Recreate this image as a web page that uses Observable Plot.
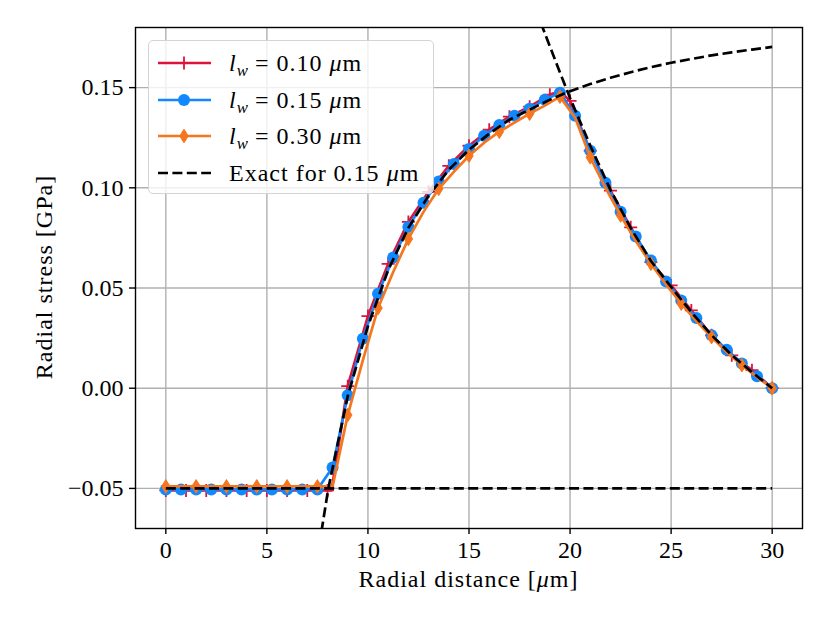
<!DOCTYPE html>
<html>
<head>
<meta charset="utf-8">
<script src="https://cdn.jsdelivr.net/npm/d3@7"></script>
<script src="https://cdn.jsdelivr.net/npm/@observablehq/plot@0.6"></script>
<style>
  body { margin: 0; background: #fff; }
  #wrap { position: relative; width: 830px; height: 623px; font-family: "Liberation Serif", serif; color: #000; }
  #legend { position: absolute; left: 148px; top: 40px; width: 286px; height: 154px; box-sizing: border-box;
            border: 1.3px solid #d4d4d4; border-radius: 5px; background: rgba(255,255,255,0.8); }
  .row { position: absolute; left: 0; height: 30px; width: 280px; }
  .row svg { position: absolute; left: 8px; top: 3px; }
  .row .lab { position: absolute; left: 80px; top: 0; font-size: 24px; line-height: 30px; letter-spacing: 1px; white-space: nowrap; }
  .sub { font-size: 70%; position: relative; top: 0.3em; letter-spacing: 0; }
</style>
</head>
<body>
<div id="wrap"><div id="legend"></div></div>
<script>
// ---------- data ----------
const xTicks = [0, 5, 10, 15, 20, 25, 30];
const yTicks = [-0.05, 0.00, 0.05, 0.10, 0.15];

// l_w = 0.10 um (crimson, plus markers at integer positions)
const x10 = [0,1,2,3,4,5,6,7,8,8.2,9,10,11,12,13,14,15,16,17,18,19,19.5,20,21,22,23,24,25,26,27,28,29,30];
const y10 = [-0.051,-0.051,-0.051,-0.051,-0.051,-0.051,-0.051,-0.051,-0.051,-0.051,
             0.001,0.036,0.062,0.083,0.098,0.111,0.121,0.129,0.1355,0.1405,0.1465,0.148,
             0.1434,0.1185,0.0986,0.0803,0.0629,0.0513,0.0388,0.0264,0.0164,0.009,0.0];
const m10 = [true,true,true,true,true,true,true,true,true,false,true,true,true,true,true,true,true,true,true,true,true,false,
             true,true,true,true,true,true,true,true,true,true,true];

// l_w = 0.15 um (blue, circle markers)
const x15 = [0,0.75,1.5,2.25,3,3.75,4.5,5.25,6,6.75,7.5,8.25,9,9.75,10.5,11.25,12,12.75,13.5,14.25,15,15.75,16.5,17.25,18,18.75,19.5,20.25,21,21.75,22.5,23.25,24,24.75,25.5,26.25,27,27.75,28.5,29.25,30];
const y15 = [-0.0505,-0.0505,-0.0505,-0.0505,-0.0505,-0.0505,-0.0505,-0.0505,-0.0505,-0.0505,-0.0505,
             -0.0395,-0.0035,0.0247,0.0471,0.0652,0.0805,0.0926,0.1032,0.1119,0.1194,0.126,0.1313,0.136,0.1395,0.144,0.1474,
             0.136,0.1185,0.1025,0.0881,0.0757,0.0637,0.0533,0.0438,0.035,0.0264,0.0192,0.0123,0.006,0.0];

// l_w = 0.30 um (orange, thin-diamond markers every 1.5)
const x30 = [0,0.75,1.5,2.25,3,3.75,4.5,5.25,6,6.75,7.5,8.25,9,9.75,10.5,11.25,12,12.75,13.5,14.25,15,15.75,16.5,17.25,18,18.75,19.5,20.25,21,21.75,22.5,23.25,24,24.75,25.5,26.25,27,27.75,28.5,29.25,30];
const y30 = [-0.049,-0.049,-0.049,-0.049,-0.049,-0.049,-0.049,-0.049,-0.049,-0.049,-0.049,-0.049,
             -0.0134,0.014,0.040,0.058,0.0745,0.088,0.0995,0.108,0.116,0.1225,0.128,0.1325,0.137,0.141,0.1455,
             0.135,0.1152,0.100,0.0862,0.0735,0.0621,0.0518,0.0422,0.0335,0.0255,0.018,0.0115,0.0055,0.0];

// Exact solution for 0.15 um: three branches, each drawn over its extension
const exFlatX = [0, 30];
const exFlatY = [-0.05, -0.05];
const exInX = [7.7, 8.04, 9, 10, 11, 12, 13, 14, 15, 16, 17, 18, 19, 20, 21, 22, 23, 24, 25, 26, 27, 28, 29, 30];
const exInY = [-0.0715, -0.05, -0.004, 0.031, 0.059, 0.080, 0.096, 0.109, 0.119, 0.127, 0.134, 0.139, 0.144, 0.1482,
               0.1518, 0.1549, 0.1577, 0.1602, 0.1624, 0.1643, 0.1661, 0.1676, 0.169, 0.1703];
const exOutX = [18.3, 18.5, 19, 19.5, 20, 21, 22, 23, 24, 25, 26, 27, 28, 29, 30];
const exOutY = [0.189, 0.1837, 0.1706, 0.1576, 0.1448, 0.121, 0.099, 0.080, 0.0635, 0.0505, 0.038, 0.0265, 0.0165, 0.008, 0.0];

const series = [
  {label: "0.10", color: "#dc143c", marker: "plus"},
  {label: "0.15", color: "#1288ff", marker: "circle"},
  {label: "0.30", color: "#f5761f", marker: "diamond"}
];

// ---------- symbols ----------
const plusSym = { draw(ctx, size) { const r = Math.sqrt(size / Math.PI);
  ctx.moveTo(-r, 0); ctx.lineTo(r, 0); ctx.moveTo(0, -r); ctx.lineTo(0, r); } };
const thinDiamond = { draw(ctx, size) { const r = Math.sqrt(size / Math.PI), w = 0.62 * r;
  ctx.moveTo(0, -r); ctx.lineTo(w, 0); ctx.lineTo(0, r); ctx.lineTo(-w, 0); ctx.closePath(); } };

const tbl = (xs, ys) => xs.map((x, i) => ({x, y: ys[i], i}));
const d10 = tbl(x10, y10), d15 = tbl(x15, y15), d30 = tbl(x30, y30);
const LW = 2.7;

const chart = Plot.plot({
  width: 830, height: 623,
  marginLeft: 135, marginRight: 28, marginTop: 27, marginBottom: 95,
  style: {fontFamily: "'Liberation Serif', serif", fontSize: "24px", color: "#000", background: "#fff"},
  x: {domain: [-1.5, 31.5]},
  y: {domain: [-0.07, 0.18]},
  marks: [
    Plot.gridX(xTicks, {stroke: "#b0b0b0", strokeOpacity: 1, strokeWidth: 1.4}),
    Plot.gridY(yTicks, {stroke: "#b0b0b0", strokeOpacity: 1, strokeWidth: 1.4}),
    // 0.10
    Plot.line(d10, {x: "x", y: "y", stroke: series[0].color, strokeWidth: LW}),
    Plot.dot(d10.filter(d => m10[d.i]), {x: "x", y: "y", symbol: plusSym, r: 6.5, fill: "none", stroke: series[0].color, strokeWidth: 1.8}),
    // 0.15
    Plot.line(d15, {x: "x", y: "y", stroke: series[1].color, strokeWidth: LW}),
    Plot.dot(d15, {x: "x", y: "y", symbol: "circle", r: 6, fill: series[1].color, stroke: "none"}),
    // 0.30
    Plot.line(d30, {x: "x", y: "y", stroke: series[2].color, strokeWidth: LW}),
    Plot.dot(d30.filter(d => d.i % 2 === 0), {x: "x", y: "y", symbol: thinDiamond, r: 6.8, fill: series[2].color, stroke: series[2].color, strokeWidth: 1}),
    // exact
    Plot.line(tbl(exFlatX, exFlatY), {x: "x", y: "y", stroke: "#000", strokeWidth: LW, strokeDasharray: "10,4.4", strokeLinecap: "butt", clip: true}),
    Plot.line(tbl(exInX, exInY), {x: "x", y: "y", stroke: "#000", strokeWidth: LW, strokeDasharray: "10,4.4", strokeLinecap: "butt", clip: true}),
    Plot.line(tbl(exOutX, exOutY), {x: "x", y: "y", stroke: "#000", strokeWidth: LW, strokeDasharray: "10,4.4", strokeLinecap: "butt", clip: true}),
    Plot.frame({stroke: "#000", strokeWidth: 1.4}),
    Plot.axisX(xTicks, {tickSize: 6, tickPadding: 6, strokeWidth: 1.4, label: null, fill: "#000"}),
    Plot.axisY(yTicks, {tickSize: 6, tickPadding: 6, strokeWidth: 1.4, label: null, fill: "#000", tickFormat: d3.format(".2f")})
  ]
});
document.getElementById("wrap").prepend(chart);

// axis titles with italic math
const svg = d3.select(chart);
const xl = svg.append("text").attr("x", (135 + 802) / 2).attr("y", 587).attr("text-anchor", "middle")
  .attr("fill", "#000").style("font-size", "24px").style("letter-spacing", "1px");
xl.append("tspan").text("Radial distance [");
xl.append("tspan").attr("font-style", "italic").text("μ");
xl.append("tspan").text("m]");
svg.append("text").attr("transform", "translate(51.5,277) rotate(-90)").attr("text-anchor", "middle")
  .attr("fill", "#000").style("font-size", "24px").style("letter-spacing", "1px").text("Radial stress [GPa]");

// legend
const legend = d3.select("#legend");
const rowsTop = [22, 59, 95, 132];
const entries = [
  ...series.map(s => ({color: s.color, marker: s.marker, dash: null,
     html: `<i>l</i><span class="sub"><i>w</i></span> = ${s.label} <i>μ</i>m`})),
  {color: "#000", marker: null, dash: "10,4.4", html: `Exact for 0.15 <i>μ</i>m`}
];
entries.forEach((e, k) => {
  const row = legend.append("div").attr("class", "row").style("top", (rowsTop[k] - 15) + "px");
  const s = row.append("svg").attr("width", 56).attr("height", 24);
  s.append("line").attr("x1", 1).attr("x2", 54).attr("y1", 12).attr("y2", 12)
    .attr("stroke", e.color).attr("stroke-width", LW).attr("stroke-dasharray", e.dash);
  if (e.marker === "plus") {
    s.append("path").attr("transform", "translate(27,12)").attr("d", d3.symbol(plusSym, Math.PI * 6.5 * 6.5)())
      .attr("fill", "none").attr("stroke", e.color).attr("stroke-width", 1.8);
  } else if (e.marker === "circle") {
    s.append("circle").attr("cx", 27).attr("cy", 12).attr("r", 6).attr("fill", e.color);
  } else if (e.marker === "diamond") {
    s.append("path").attr("transform", "translate(27,12)").attr("d", d3.symbol(thinDiamond, Math.PI * 6.8 * 6.8)())
      .attr("fill", e.color).attr("stroke", e.color).attr("stroke-width", 1);
  }
  row.append("div").attr("class", "lab").html(e.html);
});
</script>
</body>
</html>
